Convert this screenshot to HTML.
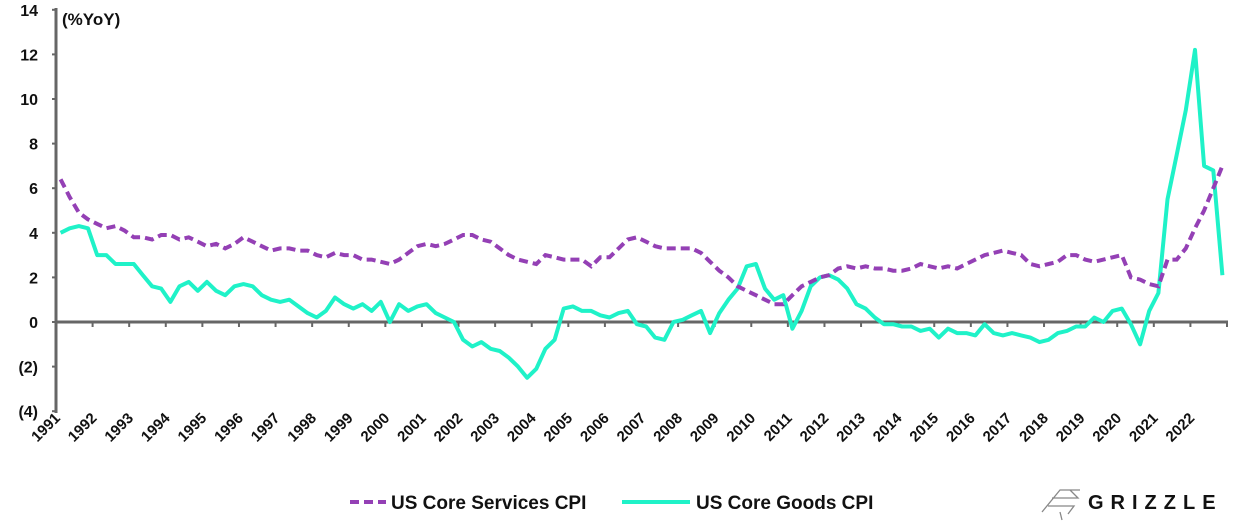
<!DOCTYPE html>
<html><head><meta charset="utf-8"><style>
body{margin:0;background:#fff;}
svg text{font-family:"Liberation Sans",sans-serif;fill:#111;}
</style></head><body>
<svg id="chart" width="1248" height="527" viewBox="0 0 1248 527">
<g id="grid"></g>
<text x="62" y="25" font-size="17" font-weight="bold">(%YoY)</text>
<g id="legend">
<line x1="350" y1="502" x2="386" y2="502" stroke="#9440b5" stroke-width="4" stroke-dasharray="9,5"/>
<text x="391" y="509" font-size="19" font-weight="bold">US Core Services CPI</text>
<line x1="622" y1="502" x2="690" y2="502" stroke="#1ff2c8" stroke-width="4"/>
<text x="696" y="509" font-size="19" font-weight="bold">US Core Goods CPI</text>
</g>
<g>
<path d="M1042 512 L1060 490 L1080 490 M1048 506 L1074 506 L1068 514 M1052 498 L1078 498 L1070 490 M1060 512 L1062 520" stroke="#888" stroke-width="1.3" fill="none"/>
<text x="1088" y="509" font-size="20" font-weight="bold" letter-spacing="7">GRIZZLE</text>
</g>
</svg>
<script>
const years=[1991,1992,1993,1994,1995,1996,1997,1998,1999,2000,2001,2002,2003,2004,2005,2006,2007,2008,2009,2010,2011,2012,2013,2014,2015,2016,2017,2018,2019,2020,2021,2022];
const yTicks=[14,12,10,8,6,4,2,0,-2,-4];
const yTickLabels=["14","12","10","8","6","4","2","0","(2)","(4)"];
const servicesCPI=[6.4,5.6,4.9,4.6, 4.4,4.2,4.3,4.1, 3.8,3.8,3.7,3.9, 3.9,3.7,3.8,3.6, 3.4,3.5,3.3,3.5, 3.8,3.6,3.4,3.2, 3.3,3.3,3.2,3.2, 3.0,2.9,3.1,3.0, 3.0,2.8,2.8,2.7, 2.6,2.8,3.1,3.4, 3.5,3.4,3.5,3.7, 3.9,3.9,3.7,3.6, 3.3,3.0,2.8,2.7, 2.6,3.0,2.9,2.8, 2.8,2.8,2.5,2.9, 2.9,3.3,3.7,3.8, 3.6,3.4,3.3,3.3, 3.3,3.3,3.1,2.7, 2.3,2.0,1.6,1.4, 1.2,1.0,0.8,0.8, 1.2,1.6,1.8,2.0, 2.1,2.4,2.5,2.4, 2.5,2.4,2.4,2.3, 2.3,2.4,2.6,2.5, 2.4,2.5,2.4,2.6, 2.8,3.0,3.1,3.2, 3.1,3.0,2.6,2.5, 2.6,2.7,3.0,3.0, 2.8,2.7,2.8,2.9, 3.0,2.0,1.9,1.7, 1.6,2.8,2.8,3.3, 4.2,5.0,6.0,7.0];
const goodsCPI=[4.0,4.2,4.3,4.2, 3.0,3.0,2.6,2.6, 2.6,2.1,1.6,1.5, 0.9,1.6,1.8,1.4, 1.8,1.4,1.2,1.6, 1.7,1.6,1.2,1.0, 0.9,1.0,0.7,0.4, 0.2,0.5,1.1,0.8, 0.6,0.8,0.5,0.9, 0.0,0.8,0.5,0.7, 0.8,0.4,0.2,0.0, -0.8,-1.1,-0.9,-1.2, -1.3,-1.6,-2.0,-2.5, -2.1,-1.2,-0.8,0.6, 0.7,0.5,0.5,0.3, 0.2,0.4,0.5,-0.1, -0.2,-0.7,-0.8,0.0, 0.1,0.3,0.5,-0.5, 0.4,1.0,1.5,2.5, 2.6,1.5,1.0,1.2, -0.3,0.5,1.6,2.0, 2.1,1.9,1.5,0.8, 0.6,0.2,-0.1,-0.1, -0.2,-0.2,-0.4,-0.3, -0.7,-0.3,-0.5,-0.5, -0.6,-0.1,-0.5,-0.6, -0.5,-0.6,-0.7,-0.9, -0.8,-0.5,-0.4,-0.2, -0.2,0.2,0.0,0.5, 0.6,-0.1,-1.0,0.5, 1.3,5.5,7.5,9.5, 12.2,7.0,6.8,2.1];

const NS='http://www.w3.org/2000/svg';
const X0=56,X1=1227,Y0=322,PER=22.3;
const yearW=(X1-X0)/years.length;
function yPos(v){return Y0-v*PER;}
function xPos(i){return X0+yearW*((i+0.5)/4);}
const g=document.getElementById('grid');
function mk(tag,attrs,parent){const e=document.createElementNS(NS,tag);for(const k in attrs)e.setAttribute(k,attrs[k]);(parent||g).appendChild(e);return e;}

const yAxis=mk('line',{x1:X0,y1:8,x2:X0,y2:413,stroke:'#666','stroke-width':3});


yTicks.forEach((v,i)=>{
  mk('line',{x1:X0-4,y1:yPos(v),x2:X0,y2:yPos(v),stroke:'#666','stroke-width':2});
  const t=mk('text',{x:38,y:yPos(v)+6,'font-size':16,'font-weight':'bold','text-anchor':'end'});
  t.textContent=yTickLabels[i];
  
  
});
const xAxis=mk('line',{x1:X0,y1:Y0,x2:X1+1,y2:Y0,stroke:'#666','stroke-width':3});


years.forEach((yr,i)=>{
  const tx=X0+yearW*(i+1);
  mk('line',{x1:tx,y1:Y0,x2:tx,y2:Y0+5,stroke:'#666','stroke-width':2});
  const lx=X0+yearW*i+5, ly=419;
  const t=mk('text',{x:lx,y:ly,'font-size':15,'font-weight':'bold','text-anchor':'end',transform:`rotate(-45 ${lx} ${ly})`});
  t.textContent=yr;
  
  
});
function path(arr){return arr.map((v,i)=>(i?'L':'M')+xPos(i).toFixed(1)+' '+yPos(v).toFixed(1)).join(' ');}
const gp=mk('path',{d:path(goodsCPI),fill:'none',stroke:'#1ff2c8','stroke-width':4,'stroke-linejoin':'round'});


const sp=mk('path',{d:path(servicesCPI),fill:'none',stroke:'#9440b5','stroke-width':4,'stroke-dasharray':'9,5'});


</script>
</body></html>
